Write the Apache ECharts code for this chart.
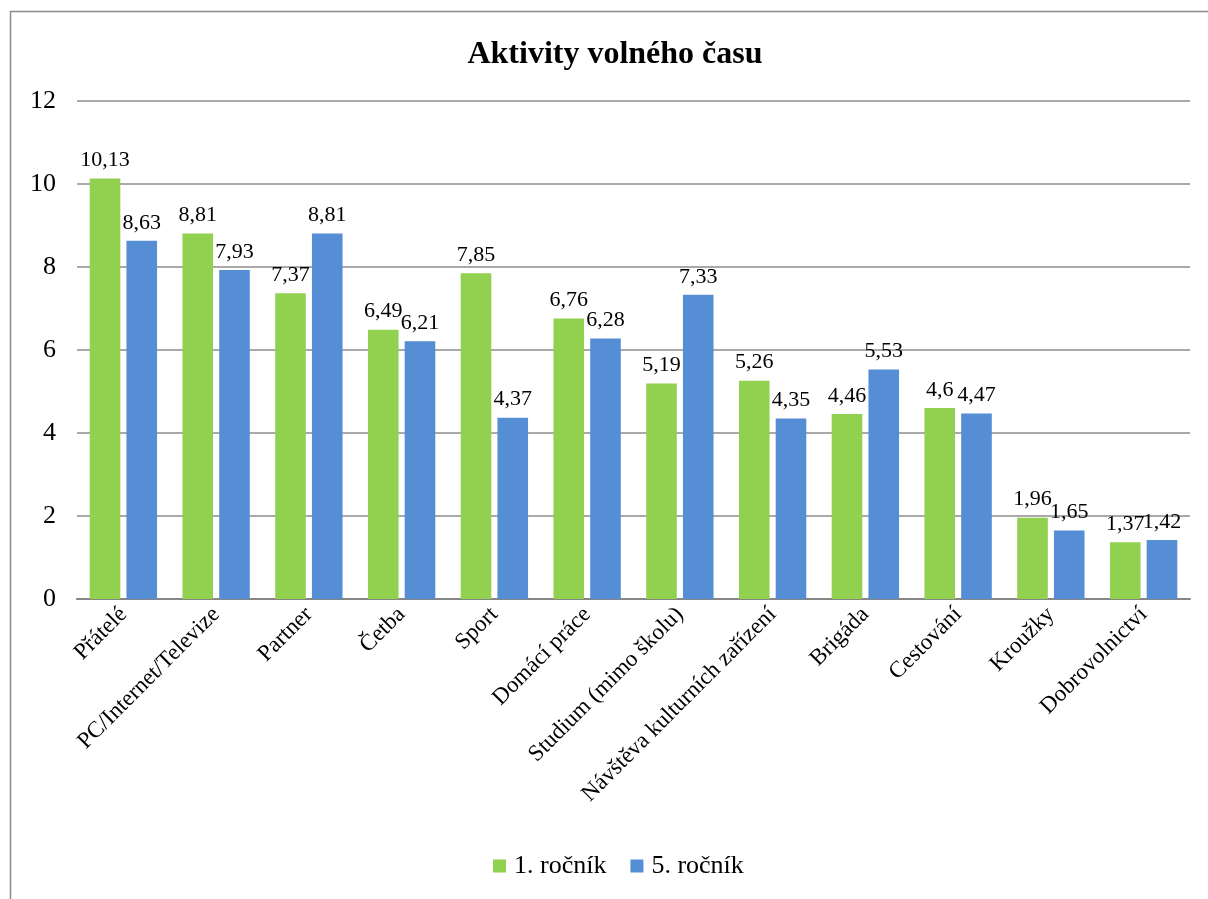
<!DOCTYPE html>
<html><head><meta charset="utf-8">
<script src="https://cdn.jsdelivr.net/npm/echarts@6/dist/echarts.min.js"></script>
<style>html,body{margin:0;padding:0;background:#fff}#c{width:1208px;height:899px}</style>
</head><body><div id="c"></div>
<script>
const categories = ["Přátelé","PC/Internet/Televize","Partner","Četba","Sport","Domácí práce","Studium (mimo školu)","Návštěva kulturních zařízení","Brigáda","Cestování","Kroužky","Dobrovolnictví"];
const seriesNames = ["1. ročník","5. ročník"];
const first = [10.13,8.81,7.37,6.49,7.85,6.76,5.19,5.26,4.46,4.6,1.96,1.37];
const fifth = [8.63,7.93,8.81,6.21,4.37,6.28,7.33,4.35,5.53,4.47,1.65,1.42];
const yTicks = [0,2,4,6,8,10,12];
const font = "'Liberation Serif', 'Times New Roman', serif";
const chart = echarts.init(document.getElementById('c'));
const lbl = {show:true, position:'top', distance:7, color:'#000', fontFamily:font, fontSize:22,
  formatter: p => String(p.value).replace('.', ',')};
chart.setOption({
  animation:false,
  title:{text:'Aktivity volného času', left:610, textAlign:'center', top:34, textStyle:{fontFamily:font, fontSize:32, fontWeight:'bold', color:'#000'}},
  graphic:[{type:'rect', shape:{x:10.5,y:11.5,width:1300,height:1000}, style:{fill:'none', stroke:'#8c8c8c', lineWidth:1.5}}],
  legend:{bottom:15, left:488, itemWidth:13, itemHeight:13, itemGap:24, icon:'rect',
    textStyle:{fontFamily:font, fontSize:26, color:'#000', padding:[0,0,0,3]}, data:seriesNames},
  grid:{left:77, right:18, top:101, bottom:300},
  xAxis:{type:'category', data:categories,
    axisLine:{lineStyle:{color:'#868686', width:2}}, axisTick:{show:false},
    axisLabel:{rotate:45, interval:0, fontFamily:font, fontSize:23, color:'#000', margin:12}},
  yAxis:{type:'value', min:0, max:12, interval:2,
    axisLine:{show:false}, axisTick:{show:false},
    axisLabel:{fontFamily:font, fontSize:26, color:'#000', margin:21, formatter:v=>yTicks.includes(v)?String(v):''},
    splitLine:{lineStyle:{color:'#8c8c8c', width:1.5}}},
  series:[
    {name:seriesNames[0], type:'bar', data:first, barWidth:'33%', barGap:'20%', itemStyle:{color:'#92D050'}, label:lbl},
    {name:seriesNames[1], type:'bar', data:fifth, barWidth:'33%', itemStyle:{color:'#558ED5'}, label:lbl}
  ]
});
</script></body></html>
